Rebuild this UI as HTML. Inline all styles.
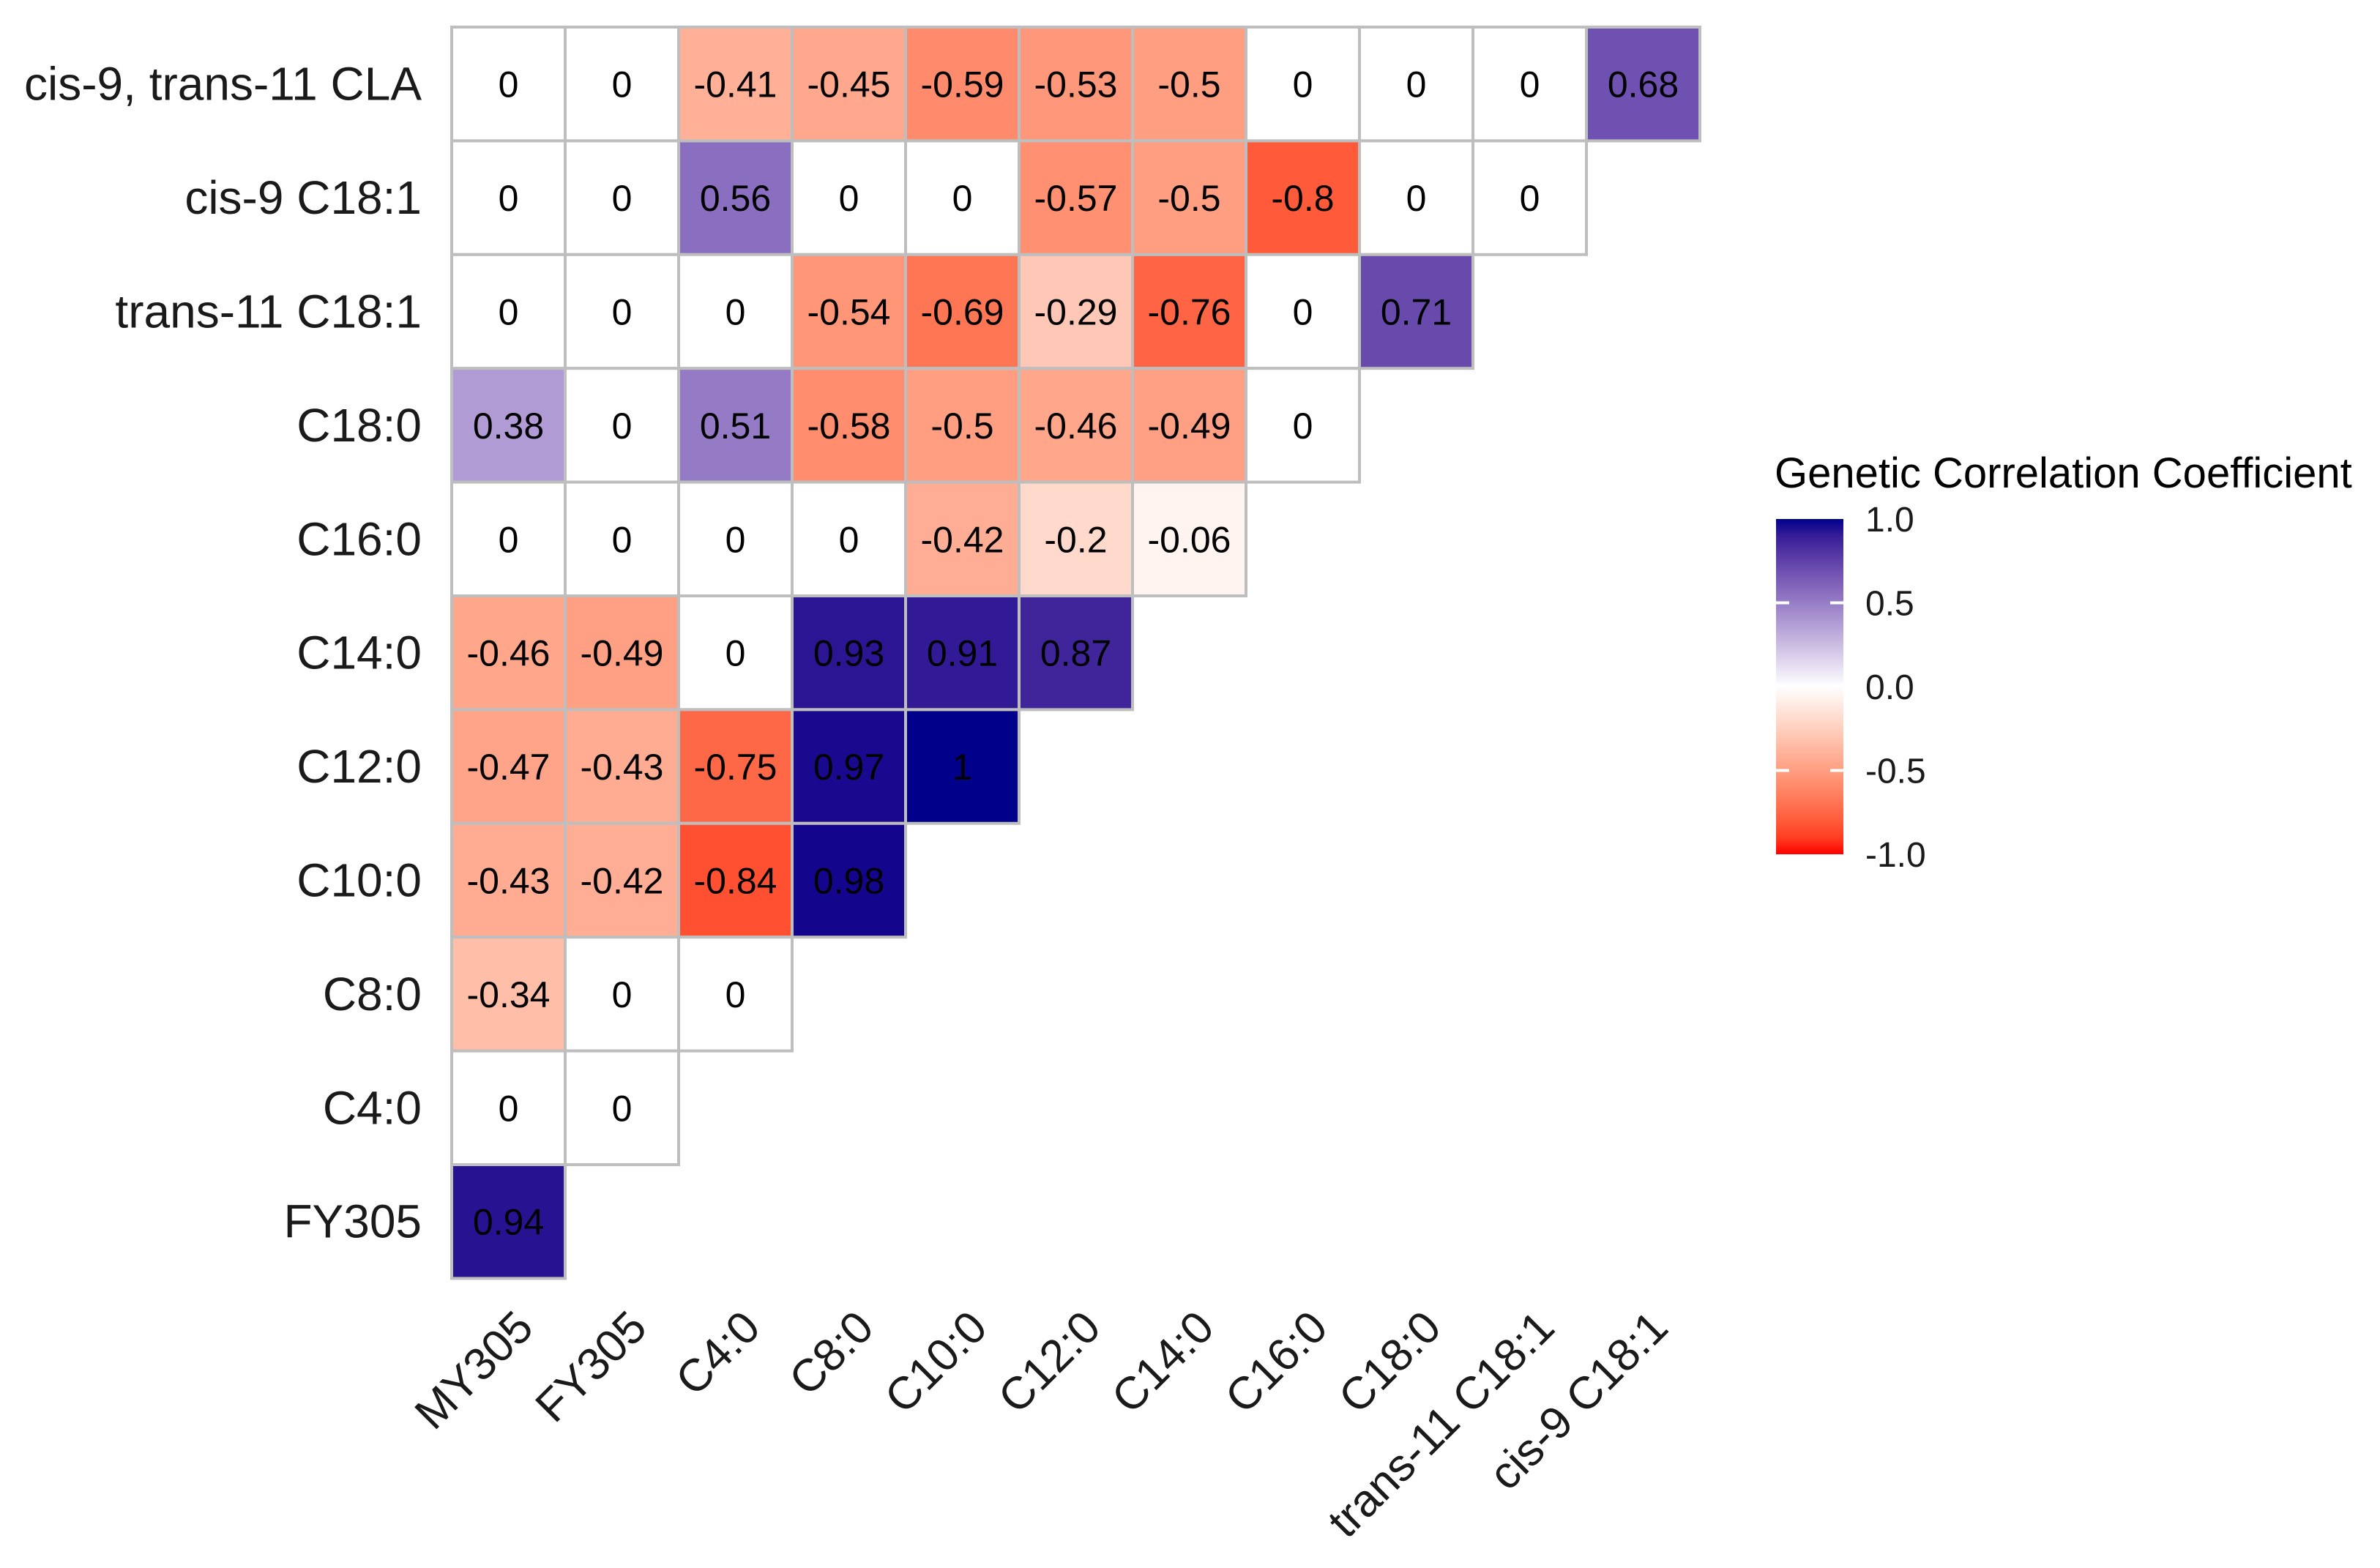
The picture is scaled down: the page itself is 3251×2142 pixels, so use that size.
<!DOCTYPE html>
<html><head><meta charset="utf-8"><style>
html,body{margin:0;padding:0;background:#fff;}
svg{display:block;font-family:"Liberation Sans",Arial,sans-serif;}
</style></head><body>
<svg id="chart" width="3251" height="2142" viewBox="0 0 3251 2142" xmlns="http://www.w3.org/2000/svg">
<defs>
<linearGradient id="cbar" x1="0" y1="1" x2="0" y2="0"></linearGradient>
</defs>
<g id="cells"></g>
<g id="ylabels"></g>
<g id="xlabels"></g>
<g id="legend">
<text x="2424" y="666" font-size="58" fill="#000">Genetic Correlation Coefficient</text>
<rect x="2426" y="709" width="92" height="458" fill="url(#cbar)"/>
<g id="legendticks"></g>
</g>
</svg>
<script>
const rowLabels = ["cis-9, trans-11 CLA","cis-9 C18:1","trans-11 C18:1","C18:0","C16:0","C14:0","C12:0","C10:0","C8:0","C4:0","FY305"];
const colLabels = ["MY305","FY305","C4:0","C8:0","C10:0","C12:0","C14:0","C16:0","C18:0","trans-11 C18:1","cis-9 C18:1"];
const rowCLA   = [0,0,-0.41,-0.45,-0.59,-0.53,-0.5,0,0,0,0.68];
const rowC9    = [0,0,0.56,0,0,-0.57,-0.5,-0.8,0,0];
const rowT11   = [0,0,0,-0.54,-0.69,-0.29,-0.76,0,0.71];
const rowC180  = [0.38,0,0.51,-0.58,-0.5,-0.46,-0.49,0];
const rowC160  = [0,0,0,0,-0.42,-0.2,-0.06];
const rowC140  = [-0.46,-0.49,0,0.93,0.91,0.87];
const rowC120  = [-0.47,-0.43,-0.75,0.97,1];
const rowC100  = [-0.43,-0.42,-0.84,0.98];
const rowC80   = [-0.34,0,0];
const rowC40   = [0,0];
const rowFY    = [0.94];
const legendTicks = [1.0,0.5,0.0,-0.5,-1.0];
const legendTickLabels = ["1.0","0.5","0.0","-0.5","-1.0"];

const rows = [rowCLA,rowC9,rowT11,rowC180,rowC160,rowC140,rowC120,rowC100,rowC80,rowC40,rowFY];
const NS="http://www.w3.org/2000/svg";
const gx0=617, gy0=37, cw=155.0, ch=155.4;
const xPos = i => gx0 + i*cw;
const yPos = j => gy0 + j*ch;

function srgb2lin(c){c/=255;return c<=0.04045?c/12.92:Math.pow((c+0.055)/1.055,2.4);}
function lin2srgb(c){c=c<=0.0031308?12.92*c:1.055*Math.pow(c,1/2.4)-0.055;return Math.round(Math.max(0,Math.min(1,c))*255);}
function toLab(rgb){const [r,g,b]=rgb.map(srgb2lin);
 let X=(0.4124*r+0.3576*g+0.1805*b)/0.95047,Y=(0.2126*r+0.7152*g+0.0722*b),Z=(0.0193*r+0.1192*g+0.9505*b)/1.08883;
 const f=t=>t>0.008856?Math.cbrt(t):7.787*t+16/116;
 const fx=f(X),fy=f(Y),fz=f(Z);return [116*fy-16,500*(fx-fy),200*(fy-fz)];}
function fromLab(l){const fy=(l[0]+16)/116,fx=fy+l[1]/500,fz=fy-l[2]/200;
 const fi=t=>t*t*t>0.008856?t*t*t:(t-16/116)/7.787;
 const X=fi(fx)*0.95047,Y=fi(fy),Z=fi(fz)*1.08883;
 const r=3.2406*X-1.5372*Y-0.4986*Z,g=-0.9689*X+1.8758*Y+0.0415*Z,b=0.0557*X-0.2040*Y+1.0570*Z;
 return `rgb(${lin2srgb(r)},${lin2srgb(g)},${lin2srgb(b)})`;}
const LR=toLab([255,0,0]),LW=toLab([255,255,255]),LB=toLab([0,0,139]);
function color(v){const a=v<0?LR:LB,t=Math.min(1,Math.abs(v));return fromLab(LW.map((w,i)=>w+(a[i]-w)*t));}

const cells=document.getElementById('cells');
rows.forEach((vals,j)=>{
 vals.forEach((v,i)=>{
  const r=document.createElementNS(NS,'rect');
  r.setAttribute('x',xPos(i));r.setAttribute('y',yPos(j));
  r.setAttribute('width',cw);r.setAttribute('height',ch);
  r.setAttribute('fill',color(v));r.setAttribute('stroke','#bebebe');r.setAttribute('stroke-width','4');
  
  
  cells.appendChild(r);
 });
});
rows.forEach((vals,j)=>{
 vals.forEach((v,i)=>{
  const t=document.createElementNS(NS,'text');
  t.setAttribute('x',xPos(i)+cw/2);t.setAttribute('y',yPos(j)+ch/2+18);
  t.setAttribute('text-anchor','middle');t.setAttribute('font-size','50');
  t.textContent=String(v);
  
  
  cells.appendChild(t);
 });
});
const yl=document.getElementById('ylabels');
rowLabels.forEach((s,j)=>{
 const t=document.createElementNS(NS,'text');
 t.setAttribute('x',576);t.setAttribute('y',yPos(j)+ch/2+22);
 t.setAttribute('text-anchor','end');t.setAttribute('font-size','64');t.setAttribute('fill','#1a1a1a');
 t.textContent=s;
 
 
 yl.appendChild(t);
});
const xl=document.getElementById('xlabels');
colLabels.forEach((s,i)=>{
 const x=xPos(i)+cw/2+6,y=1786;
 const t=document.createElementNS(NS,'text');
 t.setAttribute('x',x);t.setAttribute('y',y);
 t.setAttribute('text-anchor','end');t.setAttribute('dominant-baseline','hanging');
 t.setAttribute('font-size','62');t.setAttribute('fill','#1a1a1a');
 t.setAttribute('transform',`rotate(-45 ${x} ${y})`);
 t.textContent=s;
 
 
 xl.appendChild(t);
});
const grad=document.getElementById('cbar');
for(let k=0;k<=20;k++){const v=-1+k*0.1;const s=document.createElementNS(NS,'stop');
 s.setAttribute('offset',(k/20));s.setAttribute('stop-color',color(v));grad.appendChild(s);}
const lt=document.getElementById('legendticks');
const cbTop=709,cbBot=1167;
const ly=v=>cbBot-(v+1)/2*(cbBot-cbTop);
legendTicks.forEach((v,k)=>{
 const y=ly(v);
 if(Math.abs(v)<1){
  ['2426','2500'].forEach(x0=>{const l=document.createElementNS(NS,'rect');
   l.setAttribute('x',x0);l.setAttribute('y',y-2);l.setAttribute('width',18);l.setAttribute('height',4);l.setAttribute('fill','#fff');
   
   
   lt.appendChild(l);});
 }
 const t=document.createElementNS(NS,'text');
 t.setAttribute('x',2548);t.setAttribute('y',y+17);t.setAttribute('font-size','48');t.setAttribute('fill','#1a1a1a');
 t.textContent=legendTickLabels[k];
 
 
 lt.appendChild(t);
});
</script>
</body></html>
